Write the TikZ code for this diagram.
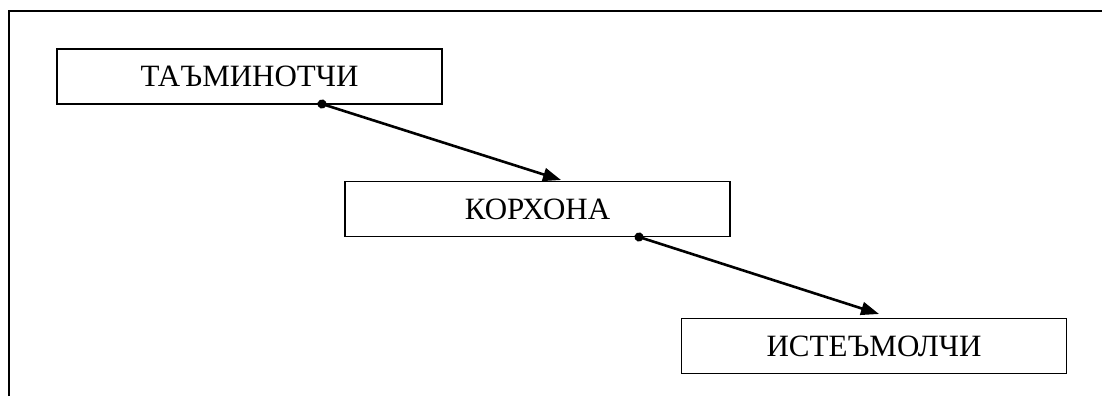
\documentclass[tikz,border=0pt]{standalone}
\usepackage{fontspec}
\setmainfont{Liberation Serif}
\usetikzlibrary{arrows.meta}
\begin{document}
\begin{tikzpicture}[x=1pt,y=-1pt,
  box/.style={draw=black, line width=1.8pt, minimum width=385pt, minimum height=55pt, inner sep=0pt, font=\fontsize{31}{37}\selectfont},
  conn/.style={line width=2.6pt, {Circle[length=9pt]}-{Triangle[length=18pt,width=13pt]}, shorten <=-4.5pt}]
\useasboundingbox (0,0) rectangle (1102,396);
\draw[line width=2.4pt] (9,396) -- (9,11) -- (1102,11);
\node[box] (b1) at (249.5,76.5) {ТАЪМИНОТЧИ};
\node[box] (b2) at (537.5,209) {КОРХОНА};
\node[box] (b3) at (874,346) {ИСТЕЪМОЛЧИ};
\coordinate (s1) at (322,104);
\coordinate (t1) at (561,180);
\coordinate (s2) at (639,237);
\coordinate (t2) at (879,314);
\draw[conn] (s1) -- (t1);
\draw[conn] (s2) -- (t2);
\end{tikzpicture}
\end{document}
